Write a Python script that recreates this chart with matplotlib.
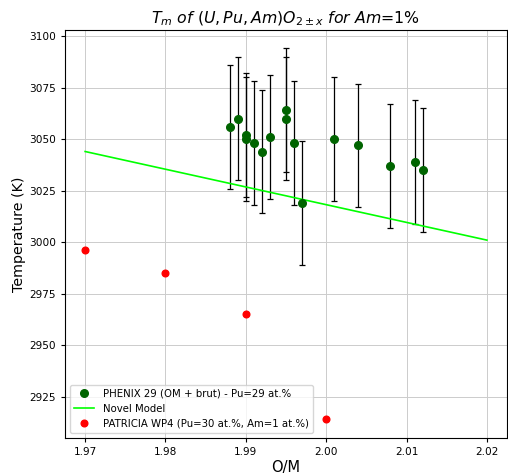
import matplotlib
matplotlib.use("Agg")
import matplotlib.pyplot as plt
from matplotlib.lines import Line2D

# PHENIX 29 data
phenix_om = [1.988, 1.989, 1.990, 1.990, 1.991, 1.992, 1.993, 1.995, 1.995, 1.996, 1.997, 2.001, 2.004, 2.008, 2.011, 2.012]
phenix_T = [3056, 3060, 3052, 3050, 3048, 3044, 3051, 3064, 3060, 3048, 3019, 3050, 3047, 3037, 3039, 3035]
phenix_err = [30] * 16

# Novel model
model_om = [1.97, 2.02]
model_T = [3044, 3001]

# PATRICIA WP4
patricia_om = [1.97, 1.98, 1.99, 2.00]
patricia_T = [2996, 2985, 2965, 2914]

fig = plt.figure(figsize=(5.08, 4.75), dpi=100)
ax = fig.add_axes([0.128, 0.078, 0.870, 0.859])

ax.errorbar(phenix_om, phenix_T, yerr=phenix_err, fmt='none',
            ecolor='black', elinewidth=0.9, capsize=2.5, capthick=0.9, zorder=2)
ax.plot(phenix_om, phenix_T, 'o', color='darkgreen', markersize=5.5, zorder=3)
ax.plot(model_om, model_T, color='lime', linewidth=1.2, zorder=2)
ax.plot(patricia_om, patricia_T, 'o', color='red', markersize=4.8, zorder=3)

ax.grid(True, color='#cccccc', linewidth=0.7)
ax.set_axisbelow(True)
ax.tick_params(labelsize=7.6, length=3)
ax.set_xticks([1.97, 1.98, 1.99, 2.00, 2.01, 2.02])
ax.set_xlabel('O/M', fontsize=10.5, labelpad=2)
ax.set_ylabel('Temperature (K)', fontsize=10.3, labelpad=2)
ax.set_title(r'$T_m\ of\ (U,Pu,Am)O_{2\pm x}\ for\ Am$=$1\%$', fontsize=11.3, pad=5)

handles = [
    Line2D([], [], marker='o', linestyle='none', color='darkgreen', markersize=5.5),
    Line2D([], [], color='lime', linewidth=1.2),
    Line2D([], [], marker='o', linestyle='none', color='red', markersize=4.8),
]
labels = ['PHENIX 29 (OM + brut) - Pu=29 at.%', 'Novel Model',
          'PATRICIA WP4 (Pu=30 at.%, Am=1 at.%)']
ax.legend(handles, labels, loc='lower left', fontsize=7.3)

fig.savefig('out.png', dpi=100)
